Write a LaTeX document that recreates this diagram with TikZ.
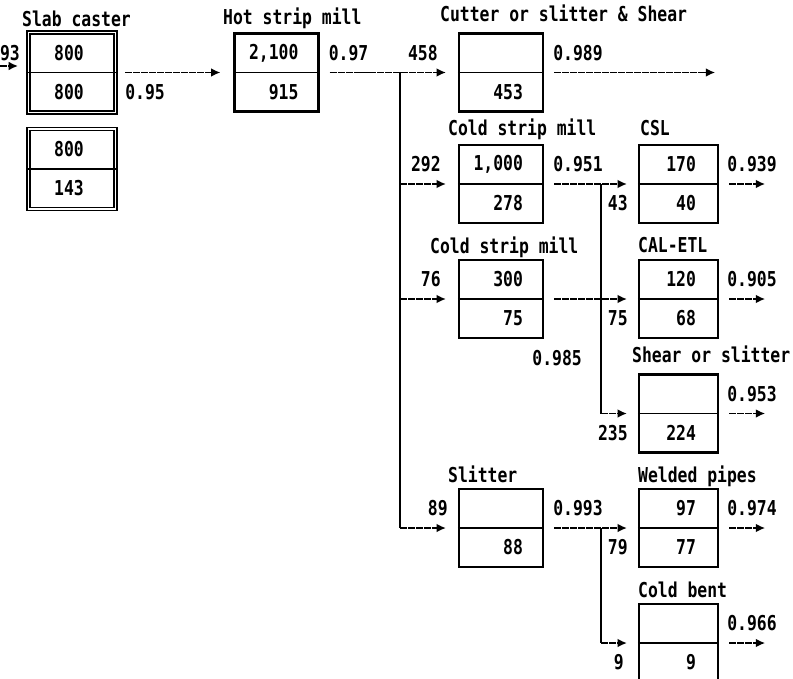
\documentclass[tikz,border=0pt]{standalone}
\usepackage{fontspec}
\setmainfont[FakeStretch=0.8]{DejaVu Sans Mono}
\usetikzlibrary{arrows.meta}
\tikzset{
  gep/.style={draw,line width=1.9pt,minimum height=2.34cm,inner sep=0pt},
  szeles/.style={minimum width=2.52cm},
  keskeny/.style={minimum width=2.37cm},
  ketto/.style={double,line width=1.3pt,double distance=1.4pt,minimum width=2.6cm,minimum height=2.4cm},
  valaszt/.style={line width=1.1pt},
  szam/.style={inner sep=0pt},
  nev/.style={inner sep=0pt,anchor=base west},
  fol/.style={line width=1.3pt,dash pattern=on 6pt off 0.8pt,-{Latex[length=2.8mm,width=2.6mm]}},
  ag/.style={line width=1.8pt},
}
% egy egyseg: doboz, valaszto vonal, a ket szam
\newcommand{\gepsor}[6]{%
  \node[gep,#3] (#1) at (#2) {};
  \draw[valaszt] (#1.west) -- (#1.east);
  \node[szam,anchor=east] (#1-f) at ([xshift=-#4,yshift=0.585cm]#1.east) {#5};
  \node[szam,anchor=east] (#1-a) at ([xshift=-#4,yshift=-0.585cm]#1.east) {#6};
}
\begin{document}
\begin{tikzpicture}[x=0.03cm,y=-0.03cm,font=\fontsize{17.5}{20}\selectfont\bfseries]
  \useasboundingbox (0,0) rectangle (793,678);
  \clip (0,0) rectangle (793,678);
  % dobozok
  \gepsor{slab1}{72,72.5}{ketto}{0.96cm}{800}{800}
  \gepsor{slab2}{72,169}{ketto}{0.96cm}{800}{143}
  \gepsor{hsm}{276.5,72.5}{szeles}{0.63cm}{2,100}{915}
  \gepsor{cut}{501,72.5}{szeles}{0.63cm}{}{453}
  \gepsor{csm1}{501,184}{szeles}{0.63cm}{1,000}{278}
  \gepsor{csm2}{501,299}{szeles}{0.63cm}{300}{75}
  \gepsor{slt}{501,528}{szeles}{0.63cm}{}{88}
  \gepsor{csl}{678.5,184}{keskeny}{0.69cm}{170}{40}
  \gepsor{cal}{678.5,299}{keskeny}{0.69cm}{120}{68}
  \gepsor{shr}{678.5,413.5}{keskeny}{0.69cm}{}{224}
  \gepsor{wel}{678.5,528}{keskeny}{0.69cm}{97}{77}
  \gepsor{cbt}{678.5,643}{keskeny}{0.69cm}{}{9}
  % nevek
  \node[nev] (n-slab) at (22,27) {Slab caster};
  \node[nev] (n-hsm) at (223,25) {Hot strip mill};
  \node[nev] (n-cut) at (440,22) {Cutter or slitter \& Shear};
  \node[nev] (n-csm1) at (448,136) {Cold strip mill};
  \node[nev] (n-csl) at (640,136) {CSL};
  \node[nev] (n-csm2) at (430,253) {Cold strip mill};
  \node[nev] (n-cal) at (638,252) {CAL-ETL};
  \node[nev] (n-shr) at (632,362) {Shear or slitter};
  \node[nev] (n-slt) at (448,482) {Slitter};
  \node[nev] (n-wel) at (638,482) {Welded pipes};
  \node[nev] (n-cbt) at (638,597) {Cold bent};
  % elagazasok
  \coordinate (be0) at (0,66); \coordinate (be1) at (18,66);
  \coordinate (j0) at (400,72.5); \coordinate (j1) at (400,184);
  \coordinate (j2) at (400,299); \coordinate (j3) at (400,528);
  \coordinate (k0) at (601,184); \coordinate (k1) at (601,413.5);
  \coordinate (m0) at (601,528); \coordinate (m1) at (601,643);
  \draw[ag] (j0) -- (j3);
  \draw[ag] (k0) -- (k1);
  \draw[ag] (m0) -- (m1);
  % folyam
  \draw[fol] (be0) -- (be1);
  \draw[fol] ([xshift=0.27cm]slab1.east) -- ([xshift=-0.39cm]hsm.west);
  \draw[fol] ([xshift=0.3cm]hsm.east) -- ([xshift=-0.36cm]cut.west);
  \draw[fol] (j1) -- ([xshift=-0.36cm]csm1.west);
  \draw[fol] (j2) -- ([xshift=-0.36cm]csm2.west);
  \draw[fol] (j3) -- ([xshift=-0.36cm]slt.west);
  \draw[fol] ([xshift=0.3cm]cut.east) -- ([xshift=5.13cm]cut.east);
  \draw[fol] ([xshift=0.3cm]csm1.east) -- ([xshift=-0.33cm]csl.west);
  \draw[fol] ([xshift=0.3cm]csm2.east) -- ([xshift=-0.33cm]cal.west);
  \draw[fol] ([xshift=0.3cm]slt.east) -- ([xshift=-0.33cm]wel.west);
  \draw[fol] (k1) -- ([xshift=-0.33cm]shr.west);
  \draw[fol] (m1) -- ([xshift=-0.33cm]cbt.west);
  \draw[fol] ([xshift=0.3cm]csl.east) -- ([xshift=1.38cm]csl.east);
  \draw[fol] ([xshift=0.3cm]cal.east) -- ([xshift=1.38cm]cal.east);
  \draw[fol] ([xshift=0.3cm]shr.east) -- ([xshift=1.38cm]shr.east);
  \draw[fol] ([xshift=0.3cm]wel.east) -- ([xshift=1.38cm]wel.east);
  \draw[fol] ([xshift=0.3cm]cbt.east) -- ([xshift=1.38cm]cbt.east);
  % mennyisegek
  \node[szam,anchor=east] (q93) at (20,53) {93};
  \node[szam,anchor=east] (q458) at ([xshift=-0.6cm,yshift=0.585cm]cut.west) {458};
  \node[szam,anchor=east] (q292) at ([xshift=-0.51cm,yshift=0.585cm]csm1.west) {292};
  \node[szam,anchor=east] (q76) at ([xshift=-0.51cm,yshift=0.585cm]csm2.west) {76};
  \node[szam,anchor=east] (q89) at ([xshift=-0.3cm,yshift=0.585cm]slt.west) {89};
  \node[szam,anchor=east] (q43) at ([xshift=-0.3cm,yshift=-0.585cm]csl.west) {43};
  \node[szam,anchor=east] (q75) at ([xshift=-0.3cm,yshift=-0.585cm]cal.west) {75};
  \node[szam,anchor=east] (q235) at ([xshift=-0.3cm,yshift=-0.585cm]shr.west) {235};
  \node[szam,anchor=east] (q79) at ([xshift=-0.3cm,yshift=-0.585cm]wel.west) {79};
  \node[szam,anchor=east] (q9) at ([xshift=-0.42cm,yshift=-0.585cm]cbt.west) {9};
  % kihozatal
  \node[szam,anchor=west] (r095) at ([xshift=0.27cm,yshift=-0.6cm]slab1.east) {0.95};
  \node[szam,anchor=west] (r097) at ([xshift=0.27cm,yshift=0.585cm]hsm.east) {0.97};
  \node[szam,anchor=west] (r0989) at ([xshift=0.27cm,yshift=0.585cm]cut.east) {0.989};
  \node[szam,anchor=west] (r0951) at ([xshift=0.27cm,yshift=0.585cm]csm1.east) {0.951};
  \node[szam,anchor=east] (r0985) at (582,358) {0.985};
  \node[szam,anchor=west] (r0993) at ([xshift=0.27cm,yshift=0.585cm]slt.east) {0.993};
  \node[szam,anchor=west] (r0939) at ([xshift=0.24cm,yshift=0.585cm]csl.east) {0.939};
  \node[szam,anchor=west] (r0905) at ([xshift=0.24cm,yshift=0.585cm]cal.east) {0.905};
  \node[szam,anchor=west] (r0953) at ([xshift=0.24cm,yshift=0.585cm]shr.east) {0.953};
  \node[szam,anchor=west] (r0974) at ([xshift=0.24cm,yshift=0.585cm]wel.east) {0.974};
  \node[szam,anchor=west] (r0966) at ([xshift=0.24cm,yshift=0.585cm]cbt.east) {0.966};
\end{tikzpicture}
\end{document}
